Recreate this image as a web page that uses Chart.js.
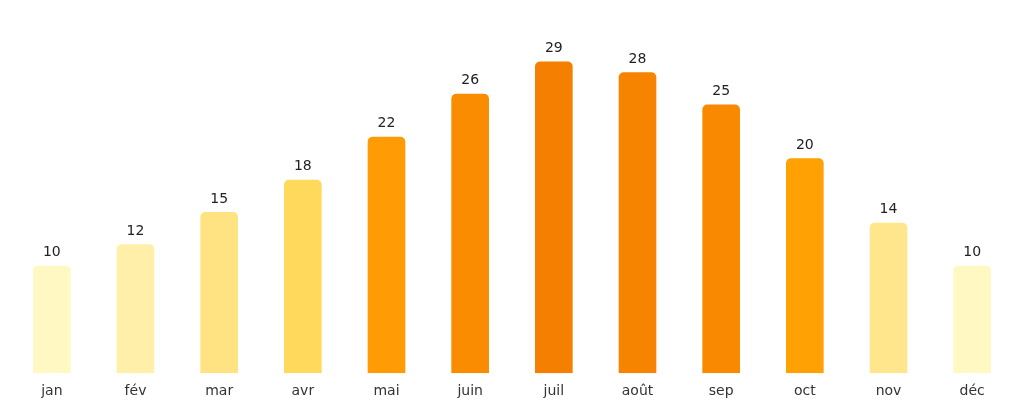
<!DOCTYPE html>
<html><head><meta charset="utf-8">
<script src="https://cdn.jsdelivr.net/npm/chart.js@4/dist/chart.umd.min.js"></script>
<style>html,body{margin:0;padding:0;background:#fff}#w{width:1024px;height:404px}</style>
</head><body><div id="w"><canvas id="c"></canvas></div>
<script>
const months = ['jan','fév','mar','avr','mai','juin','juil','août','sep','oct','nov','déc'];
const temps = [10,12,15,18,22,26,29,28,25,20,14,10];
const colors = ['#FFF8C2','#FFEFA8','#FFE383','#FFD95C','#FF9C05','#F98C00','#F57F00','#F78400','#F98A00','#FFA003','#FFE68C','#FFF8C2'];

const labelPlugin = {
  id:'vals',
  afterDatasetsDraw(chart){
    const ctx = chart.ctx, meta = chart.getDatasetMeta(0);
    ctx.save();
    ctx.font = '14px "DejaVu Sans"';
    ctx.fillStyle = '#222';
    ctx.textAlign = 'center';
    ctx.textBaseline = 'bottom';
    meta.data.forEach((b,i)=>ctx.fillText(String(temps[i]), b.x, b.y - 6));
    ctx.restore();
  }
};

new Chart(document.getElementById('c'), {
  type:'bar',
  data:{labels:months,datasets:[{data:temps,backgroundColor:colors,borderRadius:{topLeft:5,topRight:5},borderSkipped:'bottom',categoryPercentage:1,barPercentage:0.45}]},
  options:{
    responsive:true,maintainAspectRatio:false,animation:false,
    layout:{padding:{left:10,right:10,top:40,bottom:2}},
    plugins:{legend:{display:false},tooltip:{enabled:false}},
    scales:{
      x:{grid:{display:false},border:{display:false},ticks:{color:'#333',font:{size:14,family:'DejaVu Sans'},padding:2}},
      y:{display:false,min:0,max:31}
    }
  },
  plugins:[labelPlugin]
});
</script></body></html>
